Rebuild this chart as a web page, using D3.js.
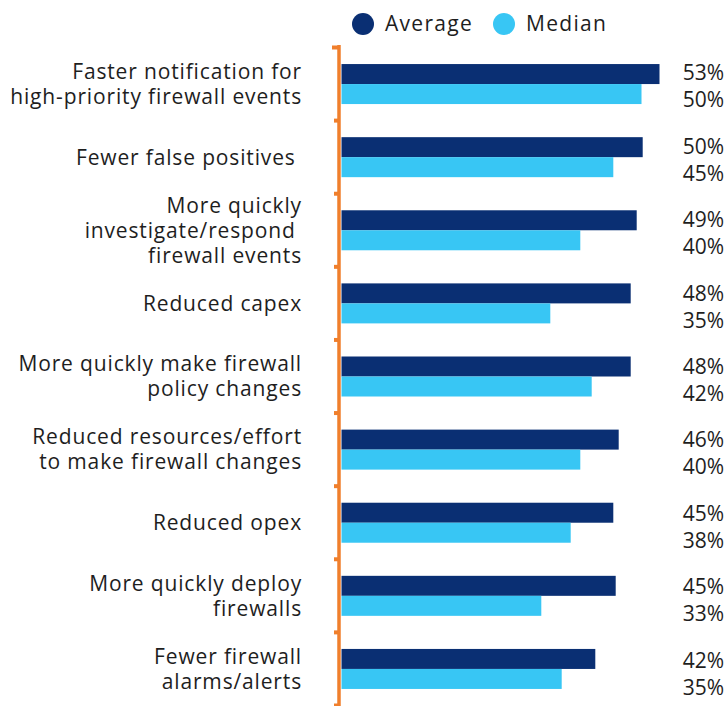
<!DOCTYPE html>
<html>
<head>
<meta charset="utf-8">
<script src="https://cdn.jsdelivr.net/npm/d3@7"></script>
<style>
  html, body { margin: 0; padding: 0; background: #fff; }
  svg { display: block; }
  text { font-family: "Open Sans", sans-serif; fill: #1e1e1e; }
</style>
</head>
<body>
<svg id="chart" width="727" height="706"></svg>
<script>
const categories = [
  ["Faster notification for", "high-priority firewall events"],
  ["Fewer false positives "],
  ["More quickly", "investigate/respond ", "firewall events"],
  ["Reduced capex"],
  ["More quickly make firewall", "policy changes"],
  ["Reduced resources/effort", "to make firewall changes"],
  ["Reduced opex"],
  ["More quickly deploy", "firewalls"],
  ["Fewer firewall", "alarms/alerts"]
];
const seriesNames = ["Average", "Median"];
const averageValues = [53, 50.2, 49.2, 48.2, 48.2, 46.2, 45.3, 45.7, 42.3];
const medianValues  = [50, 45.3, 39.8, 34.8, 41.7, 39.8, 38.2, 33.3, 36.7];
const averageLabels = ["53%", "50%", "49%", "48%", "48%", "46%", "45%", "45%", "42%"];
const medianLabels  = ["50%", "45%", "40%", "35%", "42%", "40%", "38%", "33%", "35%"];

const colors = { Average: "#0a2f73", Median: "#38c6f4" };
const axisColor = "#f07f2c";

const svg = d3.select("#chart");
const idx = d3.range(categories.length);

const y = d3.scaleBand().domain(idx).range([47.5, 705.5]).paddingInner(0).paddingOuter(0);
const x = d3.scaleLinear().domain([0, 60]).range([341.5, 701.5]);

const barH = 20;
const groupOffset = (y.bandwidth() - 2 * barH) / 2;

// bars
const g = svg.append("g");
g.selectAll("rect.avg").data(idx).join("rect")
  .attr("class", "avg")
  .attr("x", x(0))
  .attr("y", i => y(i) + groupOffset)
  .attr("width", i => x(averageValues[i]) - x(0))
  .attr("height", barH)
  .attr("fill", colors.Average);
g.selectAll("rect.med").data(idx).join("rect")
  .attr("class", "med")
  .attr("x", x(0))
  .attr("y", i => y(i) + groupOffset + barH)
  .attr("width", i => x(medianValues[i]) - x(0))
  .attr("height", barH)
  .attr("fill", colors.Median);

// axis line + ticks at band boundaries
const boundaries = idx.map(i => y(i)).concat([y.range()[1]]);
svg.append("line")
  .attr("x1", 339).attr("x2", 339)
  .attr("y1", y.range()[0] - 2.5).attr("y2", 706)
  .attr("stroke", axisColor).attr("stroke-width", 3.5);
svg.selectAll("line.tick").data(boundaries).join("line")
  .attr("class", "tick")
  .attr("x1", (d, i) => i === 0 ? 332 : 334).attr("x2", 338)
  .attr("y1", d => d).attr("y2", d => d)
  .attr("stroke", axisColor).attr("stroke-width", 4);

// category labels
const lineH = 25;
const catG = svg.append("g");
idx.forEach(i => {
  const lines = categories[i];
  const cy = y(i) + y.bandwidth() / 2;
  const t = catG.append("text")
    .attr("text-anchor", "end")
    .attr("font-size", 21)
    .attr("letter-spacing", 0.85)
    .style("white-space", "pre");
  lines.forEach((ln, k) => {
    t.append("tspan")
      .attr("x", 302)
      .attr("y", cy + (k - (lines.length - 1) / 2) * lineH)
      .attr("dy", "0.35em")
      .text(ln);
  });
});

// value labels
svg.selectAll("text.avgLab").data(idx).join("text")
  .attr("class", "avgLab")
  .attr("x", 724)
  .attr("y", i => y(i) + 25.5 + i * 0.3)
  .attr("dy", "0.35em")
  .attr("text-anchor", "end")
  .attr("font-size", 21)
  .text(i => averageLabels[i]);
svg.selectAll("text.medLab").data(idx).join("text")
  .attr("class", "medLab")
  .attr("x", 724)
  .attr("y", i => y(i) + 52.5 + i * 0.3)
  .attr("dy", "0.35em")
  .attr("text-anchor", "end")
  .attr("font-size", 21)
  .text(i => medianLabels[i]);

// legend
const legendX = [363, 504];
const leg = svg.append("g");
seriesNames.forEach((s, k) => {
  leg.append("circle").attr("cx", legendX[k]).attr("cy", 24).attr("r", 11).attr("fill", colors[s]);
  leg.append("text").attr("x", legendX[k] + 22).attr("y", 24).attr("dy", "0.35em")
    .attr("font-size", 21).attr("letter-spacing", 1.3).text(s);
});
</script>
</body>
</html>
